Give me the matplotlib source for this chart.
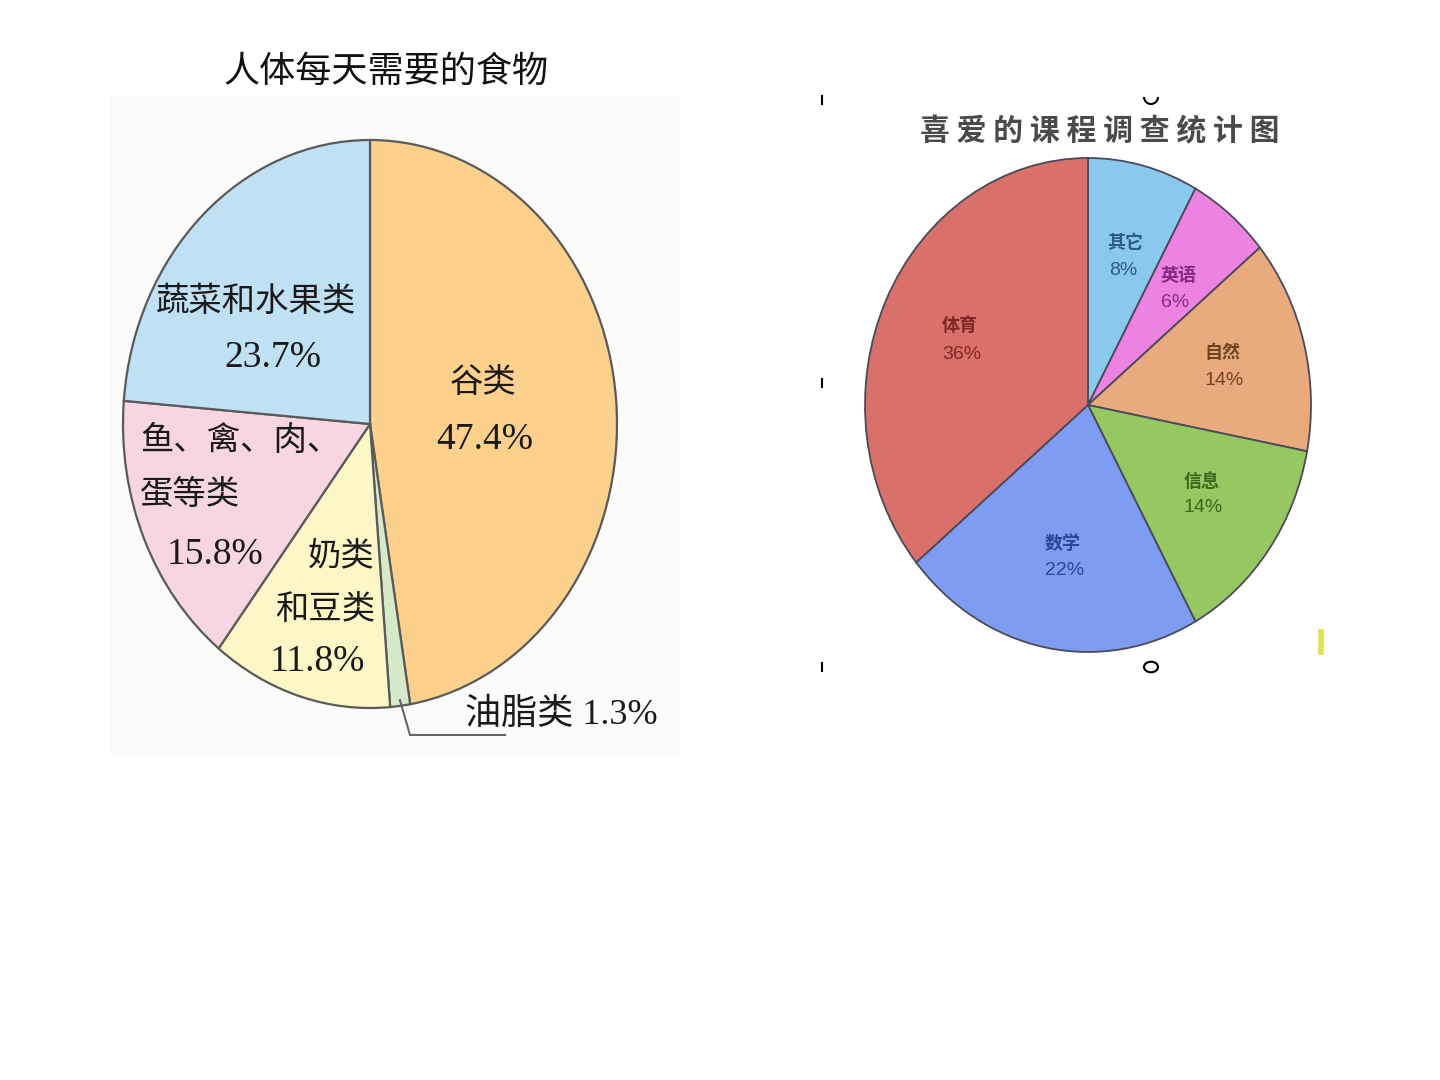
import matplotlib
matplotlib.use("Agg")
import matplotlib.pyplot as plt
from matplotlib.patches import Rectangle, Arc, Circle
from matplotlib.lines import Line2D

plt.rcParams['font.family'] = ['Liberation Serif', 'Noto Sans CJK SC', 'DejaVu Sans']

# left chart: daily food
food_title = "人体每天需要的食物"
food_names = ["谷类", "油脂类", "奶类\n和豆类", "鱼、禽、肉、\n蛋等类", "蔬菜和水果类"]
food_values = [47.4, 1.3, 11.8, 15.8, 23.7]
food_colors = ["#fdd08c", "#d6e9c8", "#fdf6c6", "#f7d6e2", "#c0e0f4"]

# right chart: favourite courses
course_title = "喜爱的课程调查统计图"
course_names = ["其它", "英语", "自然", "信息", "数学", "体育"]
course_values = [8, 6, 14, 14, 22, 36]
course_colors = ["#8bc8ee", "#ec82e2", "#e9aa7e", "#96c862", "#7f9cf3", "#d9706a"]
course_text = ["#2d5a86", "#862a80", "#6e4320", "#3b661d", "#2b4592", "#7f2724"]

W, H = 1440, 1080
fig = plt.figure(figsize=(14.4, 10.8), dpi=100)
fig.patch.set_facecolor("white")


def pie_axes(cx, cy, rx, ry, pad=1.2):
    # axes box so that a unit pie becomes an ellipse with semi-axes rx, ry (pixels)
    ax = fig.add_axes([(cx - pad * rx) / W, 1 - (cy + pad * ry) / H,
                       2 * pad * rx / W, 2 * pad * ry / H])
    return ax, pad


# faint background of the food picture
fig.patches.append(Rectangle((110 / W, 1 - 755 / H), 570 / W, 660 / H,
                             transform=fig.transFigure, facecolor="#fbfbfa",
                             edgecolor="none", zorder=-5))

# ---- left pie ----
ax1, p1 = pie_axes(370, 424, 247, 284)
ax1.pie(food_values, colors=food_colors, startangle=90, counterclock=False,
        wedgeprops=dict(edgecolor="#5a5a5a", linewidth=1.6))
ax1.set_aspect("auto")
ax1.set_xlim(-p1, p1)
ax1.set_ylim(-p1, p1)

serif = ['Liberation Serif', 'Noto Sans CJK SC']
fs1 = 24
name_pos1 = [(0.457, 0.144, "center"), None, (0.02, -0.563, "right"),
             (-0.931, -0.155, "left"), (-0.462, 0.430, "center")]
pct_pos1 = [(0.466, -0.056), None, (-0.211, -0.838), (-0.628, -0.461), (-0.393, 0.232)]
for name, v, npos, ppos in zip(food_names, food_values, name_pos1, pct_pos1):
    if npos is None:
        continue
    x, y, ha = npos
    ax1.text(x, y, name, ha=ha, va="center", multialignment=ha, fontsize=fs1,
             family=serif, linespacing=1.95, color="#1a1a1a")
    ax1.text(ppos[0], ppos[1], f"{v}%", ha="center", va="center", fontsize=fs1 + 3,
             family=serif, color="#1a1a1a")

# oil label with leader line
ax1.plot([0.121, 0.162, 0.547], [-0.972, -1.095, -1.095], color="#666666", lw=1.5,
         clip_on=False)
ax1.text(0.385, -1.025, f"{food_names[1]} {food_values[1]}%", ha="left", va="center",
         fontsize=fs1 + 2, family=serif, color="#1a1a1a")

fig.text(386 / W, 1 - 72 / H, food_title, ha="center", va="center", fontsize=26,
         family=['Noto Sans CJK SC'], fontweight="light", color="#111111")

# ---- right pie ----
ax2, p2 = pie_axes(1088, 405, 223, 247)
ax2.pie(course_values, colors=course_colors, startangle=90, counterclock=False,
        wedgeprops=dict(edgecolor="#4a4a5a", linewidth=1.3))
ax2.set_aspect("auto")
ax2.set_xlim(-p2, p2)
ax2.set_ylim(-p2, p2)

name_pos2 = [(0.166, 0.656), (0.404, 0.526), (0.601, 0.211), (0.511, -0.308),
             (-0.112, -0.559), (-0.574, 0.320)]
pct_pos2 = [(0.157, 0.543), (0.390, 0.417), (0.610, 0.101), (0.516, -0.417),
            (-0.103, -0.672), (-0.565, 0.206)]
for name, v, c, npos, ppos in zip(course_names, course_values, course_text, name_pos2, pct_pos2):
    ax2.text(npos[0], npos[1], name, ha="center", va="center", fontsize=13,
             family=['Noto Sans CJK SC'], fontweight="bold", color=c)
    ax2.text(ppos[0], ppos[1], f"{v}%", ha="center", va="center", fontsize=14,
             family=['Liberation Sans'], color=c)

fig.text(1100 / W, 1 - 131 / H, " ".join(course_title), ha="center", va="center",
         fontsize=21.5, family=['Noto Sans CJK SC'], fontweight="bold", color="#4a4a4a")

# small selection handles left over in the slide
for yy in (100, 383, 667):
    fig.lines.append(Line2D([822 / W, 822 / W], [1 - (yy - 4) / H, 1 - (yy + 4) / H],
                            transform=fig.transFigure, color="black", lw=1.5))
fig.patches.append(Arc((1151 / W, 1 - 97 / H), 14 / W, 14 / H, theta1=180, theta2=360,
                       transform=fig.transFigure, color="black", lw=1.5))
fig.patches.append(Circle((1151 / W, 1 - 667 / H), 7 / W, transform=fig.transFigure,
                          facecolor="white", edgecolor="black", lw=1.5))
fig.lines.append(Line2D([1321 / W, 1321 / W], [1 - 632 / H, 1 - 652 / H],
                        transform=fig.transFigure, color="#e0e04a", lw=4))

fig.savefig("out.png", dpi=100, facecolor="white")
